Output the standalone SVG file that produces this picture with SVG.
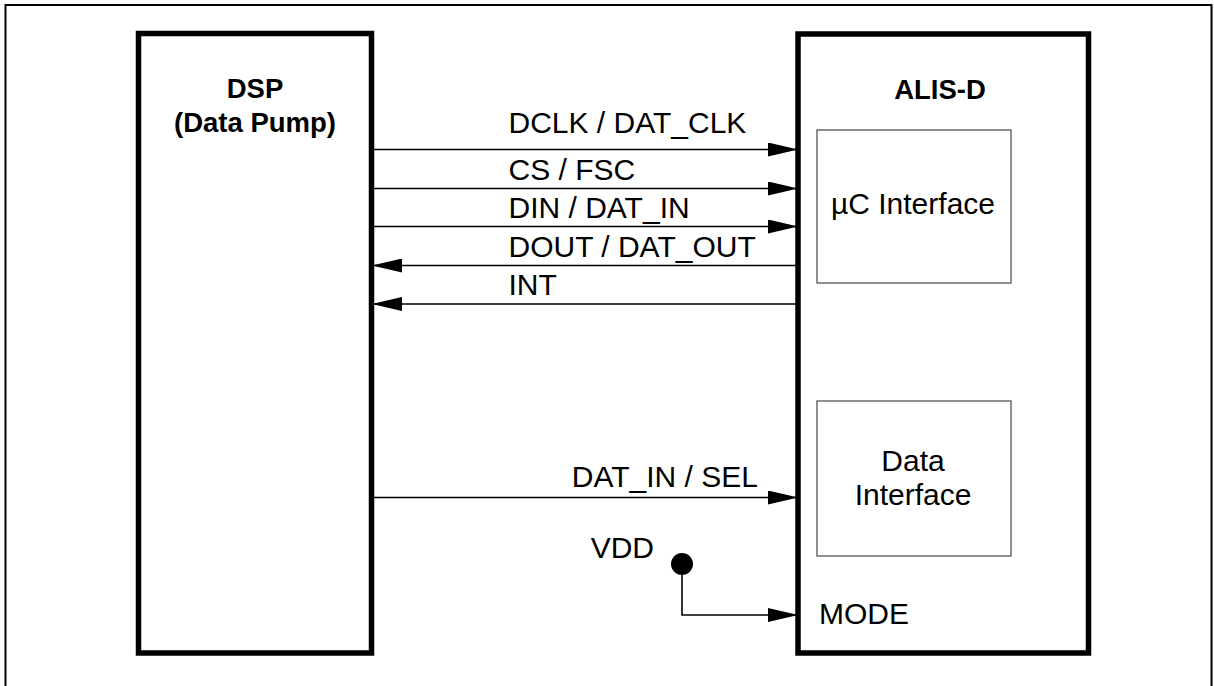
<svg xmlns="http://www.w3.org/2000/svg" width="1214" height="686" viewBox="0 0 1214 686">
<style>
text{font-family:"Liberation Sans",Arial,sans-serif;fill:#000}
.lbl{font-size:30px}
.ttl{font-size:27.5px;font-weight:bold}
.big{fill:none;stroke:#000;stroke-width:5.5}
.sub{fill:none;stroke:#555;stroke-width:1.3}
.wire{fill:none;stroke:#000;stroke-width:1.6}
</style>
<defs>
<marker id="ah" markerUnits="userSpaceOnUse" markerWidth="28" markerHeight="14" refX="28" refY="7" orient="auto">
<path d="M0,0 L28,6.5 L28,7.5 L0,14 Z" fill="#000"/>
</marker>
</defs>
<rect x="0" y="0" width="1214" height="686" fill="#fff"/>
<rect x="5.5" y="5" width="1206" height="700" fill="none" stroke="#000" stroke-width="2"/>
<g id="dsp">
<rect class="big" x="138.5" y="33.5" width="233" height="619.5"/>
<text class="ttl" x="255" y="98" text-anchor="middle">DSP</text>
<text class="ttl" x="255" y="132" text-anchor="middle">(Data Pump)</text>
</g>
<g id="alisd">
<rect class="big" x="798" y="34" width="290.5" height="619"/>
<text class="ttl" x="940" y="99" text-anchor="middle">ALIS-D</text>
<text class="lbl" x="819" y="624">MODE</text>
</g>
<g id="uc-interface">
<rect class="sub" x="817" y="130" width="194" height="153"/>
<text class="lbl" x="913" y="214" text-anchor="middle">µC Interface</text>
</g>
<g id="data-interface">
<rect class="sub" x="817" y="401" width="194" height="155"/>
<text class="lbl" x="913" y="471" text-anchor="middle">Data</text>
<text class="lbl" x="913" y="505" text-anchor="middle">Interface</text>
</g>
<g id="vdd">
<circle cx="682" cy="564" r="11" fill="#000"/>
<text class="lbl" x="654" y="558" text-anchor="end">VDD</text>
</g>
<g id="connectors">
<line class="wire" x1="374" y1="149.5" x2="796" y2="149.5" marker-end="url(#ah)"/>
<line class="wire" x1="374" y1="188.5" x2="796" y2="188.5" marker-end="url(#ah)"/>
<line class="wire" x1="374" y1="226.5" x2="796" y2="226.5" marker-end="url(#ah)"/>
<line class="wire" x1="796" y1="265.5" x2="374" y2="265.5" marker-end="url(#ah)"/>
<line class="wire" x1="796" y1="304" x2="374" y2="304" marker-end="url(#ah)"/>
<line class="wire" x1="374" y1="497.5" x2="796" y2="497.5" marker-end="url(#ah)"/>
<polyline class="wire" points="682,564 682,615 796,615" marker-end="url(#ah)"/>
<text class="lbl" x="508.5" y="132.5">DCLK / DAT_CLK</text>
<text class="lbl" x="508.5" y="180">CS / FSC</text>
<text class="lbl" x="508.5" y="218">DIN / DAT_IN</text>
<text class="lbl" x="508.5" y="257">DOUT / DAT_OUT</text>
<text class="lbl" x="508.5" y="295">INT</text>
<text class="lbl" x="758" y="487" text-anchor="end">DAT_IN / SEL</text>
</g>
</svg>
